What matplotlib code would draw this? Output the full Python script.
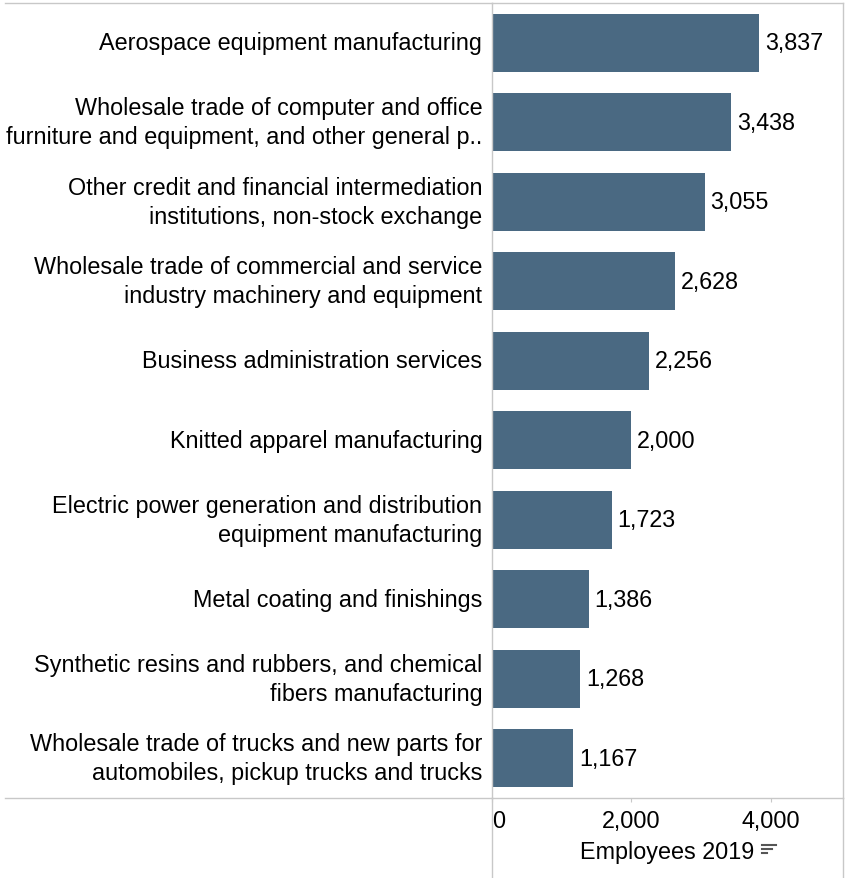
import matplotlib.pyplot as plt
from matplotlib.lines import Line2D

# Employees 2019 by industry
industries = [
    "Aerospace equipment manufacturing",
    "Wholesale trade of computer and office\nfurniture and equipment, and other general p..",
    "Other credit and financial intermediation\ninstitutions, non-stock exchange",
    "Wholesale trade of commercial and service\nindustry machinery and equipment",
    "Business administration services",
    "Knitted apparel manufacturing",
    "Electric power generation and distribution\nequipment manufacturing",
    "Metal coating and finishings",
    "Synthetic resins and rubbers, and chemical\nfibers manufacturing",
    "Wholesale trade of trucks and new parts for\nautomobiles, pickup trucks and trucks",
]
employees = [3837, 3438, 3055, 2628, 2256, 2000, 1723, 1386, 1268, 1167]
x_ticks = [0, 2000, 4000]
x_tick_labels = ["0", "2,000", "4,000"]

bar_color = "#4a6982"
line_color = "#c8c8c8"
fs = 16.8

plt.rcParams['font.family'] = ['Liberation Sans', 'DejaVu Sans']

W, H = 851, 879
fig = plt.figure(figsize=(W / 100, H / 100), dpi=100)
ax = fig.add_axes([492 / W, 80 / H, 351 / W, 795 / H])

pos = list(range(len(industries)))
ax.barh(pos, employees, height=0.73, color=bar_color)
ax.set_ylim(len(industries) - 0.5, -0.5)
ax.set_xlim(0, 5040)

for p, v in zip(pos, employees):
    ax.annotate(f"{v:,}", (v, p), xytext=(4, 0), textcoords="offset points",
                ha="left", va="center", fontsize=fs, color="black")

ax.set_yticks(pos)
ax.set_yticklabels(industries, fontsize=fs, linespacing=1.33, va="center")
ax.tick_params(axis="y", length=0, pad=7)

ax.set_xticks(x_ticks)
ax.set_xticklabels(x_tick_labels, fontsize=fs)
ax.tick_params(axis="x", length=3, color=line_color, pad=5)
ax.get_xticklabels()[0].set_horizontalalignment("left")
ax.set_xlabel("Employees 2019", fontsize=fs, labelpad=6)

for s in ax.spines.values():
    s.set_color(line_color)
    s.set_linewidth(1)

# extend the frame lines beyond the plot area like the original layout
ax_l, ax_r = 492 / W, 843 / W
ax_t, ax_b = 1 - 4 / H, 80 / H
fig.add_artist(Line2D([5 / W, ax_l], [ax_t, ax_t], color=line_color, lw=1))
fig.add_artist(Line2D([5 / W, ax_l], [ax_b, ax_b], color=line_color, lw=1))
fig.add_artist(Line2D([ax_l, ax_l], [0, ax_b], color=line_color, lw=1))
fig.add_artist(Line2D([ax_r, ax_r], [0, ax_b], color=line_color, lw=1))

# sort icon next to the axis title
for yy, x1 in [(846, 776), (850, 772), (854, 767)]:
    fig.add_artist(Line2D([762 / W, x1 / W], [1 - yy / H, 1 - yy / H],
                          color="#555555", lw=1.5))

fig.savefig("out.png", dpi=100)
